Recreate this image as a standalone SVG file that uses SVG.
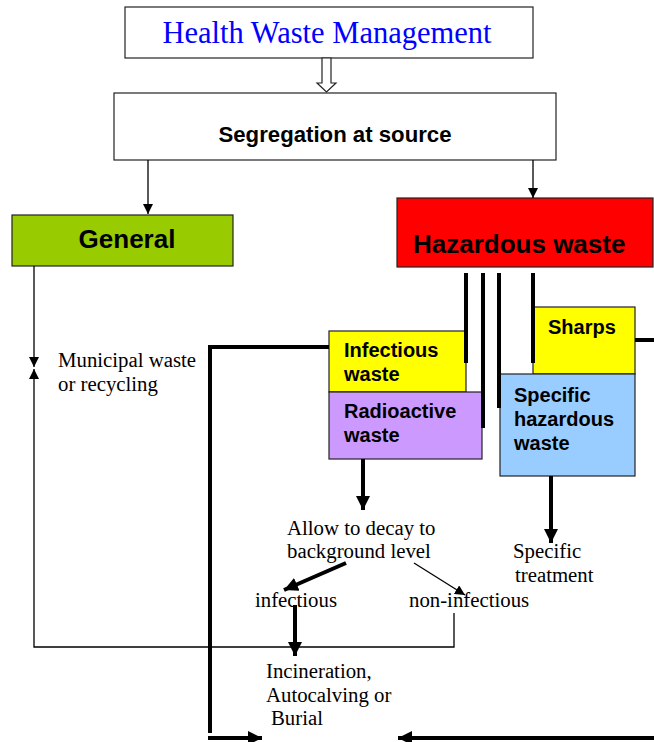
<svg xmlns="http://www.w3.org/2000/svg" width="654" height="742" viewBox="0 0 654 742">
<style>
.box{stroke:#222;stroke-width:1.2}
.sans{font-family:"Liberation Sans",Arial,sans-serif;font-weight:bold;fill:#000}
.serif{font-family:"Liberation Serif","Times New Roman",serif;font-size:20.8px;fill:#000}
.thin{fill:none;stroke:#000;stroke-width:1.3}
.thick{fill:none;stroke:#000;stroke-width:4}
</style>
<defs>
<marker id="ah" markerUnits="userSpaceOnUse" markerWidth="10" markerHeight="10" refX="10" refY="5" orient="auto"><path d="M0,0 L10,5 L0,10 z" fill="#000"/></marker>
<marker id="ahb" markerUnits="userSpaceOnUse" markerWidth="14" markerHeight="14" refX="14" refY="7" orient="auto"><path d="M0,0 L14,7 L0,14 z" fill="#000"/></marker>
</defs>
<rect width="654" height="742" fill="#fff"/>
<g id="title">
<rect class="box" x="125" y="7" width="408" height="51" fill="#fff"/>
<text x="327" y="43" text-anchor="middle" font-family="Liberation Serif,Times New Roman,serif" font-size="30.5" fill="#0000ff">Health Waste Management</text>
</g>
<g id="segregation">
<rect class="box" x="114" y="93" width="442" height="67" fill="#fff"/>
<text class="sans" x="335" y="142" text-anchor="middle" font-size="22.2">Segregation at source</text>
</g>
<g id="general">
<rect class="box" x="12" y="215" width="221" height="51" fill="#99cc00"/>
<text class="sans" x="127" y="248" text-anchor="middle" font-size="26">General</text>
</g>
<g id="hazardous">
<rect class="box" x="397" y="198" width="256" height="69" fill="#ff0000"/>
<text class="sans" x="413" y="253" font-size="26">Hazardous waste</text>
</g>
<g id="infectious">
<rect class="box" x="329" y="331" width="137" height="61" fill="#ffff00"/>
<text class="sans" x="344" y="357" font-size="20">Infectious</text>
<text class="sans" x="344" y="381" font-size="20">waste</text>
</g>
<g id="radioactive">
<rect class="box" x="329" y="392" width="153" height="67" fill="#cc99ff"/>
<text class="sans" x="344" y="418" font-size="20">Radioactive</text>
<text class="sans" x="344" y="442" font-size="20">waste</text>
</g>
<g id="sharps">
<rect class="box" x="533" y="307" width="102" height="67" fill="#ffff00"/>
<text class="sans" x="548" y="334" font-size="20">Sharps</text>
</g>
<g id="specific-hazardous">
<rect class="box" x="500" y="374" width="135" height="102" fill="#99ccff"/>
<text class="sans" x="514" y="402" font-size="20">Specific</text>
<text class="sans" x="514" y="426" font-size="20">hazardous</text>
<text class="sans" x="514" y="450" font-size="20">waste</text>
</g>
<g id="municipal">
<text class="serif" x="58" y="367">Municipal waste</text>
<text class="serif" x="58" y="391">or recycling</text>
</g>
<g id="decay">
<text class="serif" x="287" y="535">Allow to decay to</text>
<text class="serif" x="287" y="558">background level</text>
</g>
<g id="specific-treatment">
<text class="serif" x="513" y="558">Specific</text>
<text class="serif" x="515" y="582">treatment</text>
</g>
<g id="infectious-label">
<text class="serif" x="255" y="607">infectious</text>
</g>
<g id="non-infectious-label">
<text class="serif" x="409" y="607">non-infectious</text>
</g>
<g id="incineration">
<text class="serif" x="266" y="678">Incineration,</text>
<text class="serif" x="266" y="702">Autocalving or</text>
<text class="serif" x="271" y="725">Burial</text>
</g>
<g id="connectors">
<polygon points="322,58 322,83 317,83 326.5,92 336,83 331,83 331,58" fill="#fff" stroke="#222" stroke-width="1.2"/>
<line class="thin" x1="148" y1="160" x2="148" y2="214" marker-end="url(#ah)"/>
<line class="thin" x1="533" y1="160" x2="533" y2="198" marker-end="url(#ah)"/>
<line class="thin" x1="34" y1="266" x2="34" y2="367" marker-end="url(#ah)"/>
<polyline class="thin" points="454,613 454,647 34,647 34,369" marker-end="url(#ah)"/>
<line class="thick" x1="466" y1="273" x2="466" y2="363"/>
<line class="thick" x1="483" y1="273" x2="483" y2="428"/>
<line class="thick" x1="499" y1="273" x2="499" y2="408"/>
<line class="thick" x1="533" y1="273" x2="533" y2="363"/>
<polyline class="thick" points="329,347 210,347 210,733"/>
<line class="thick" x1="635" y1="340" x2="654" y2="340"/>
<line class="thick" x1="208" y1="738" x2="262" y2="738" marker-end="url(#ahb)"/>
<line class="thick" x1="654" y1="738" x2="398" y2="738" marker-end="url(#ahb)"/>
<line class="thick" x1="363" y1="459" x2="363" y2="510" marker-end="url(#ahb)"/>
<line class="thick" x1="551" y1="476" x2="551" y2="543" marker-end="url(#ahb)"/>
<line class="thick" x1="346" y1="563" x2="284" y2="590" marker-end="url(#ahb)"/>
<line class="thin" x1="414" y1="563" x2="465" y2="595" marker-end="url(#ah)"/>
<line class="thick" x1="295" y1="605" x2="295" y2="656" marker-end="url(#ahb)"/>
</g>
</svg>
